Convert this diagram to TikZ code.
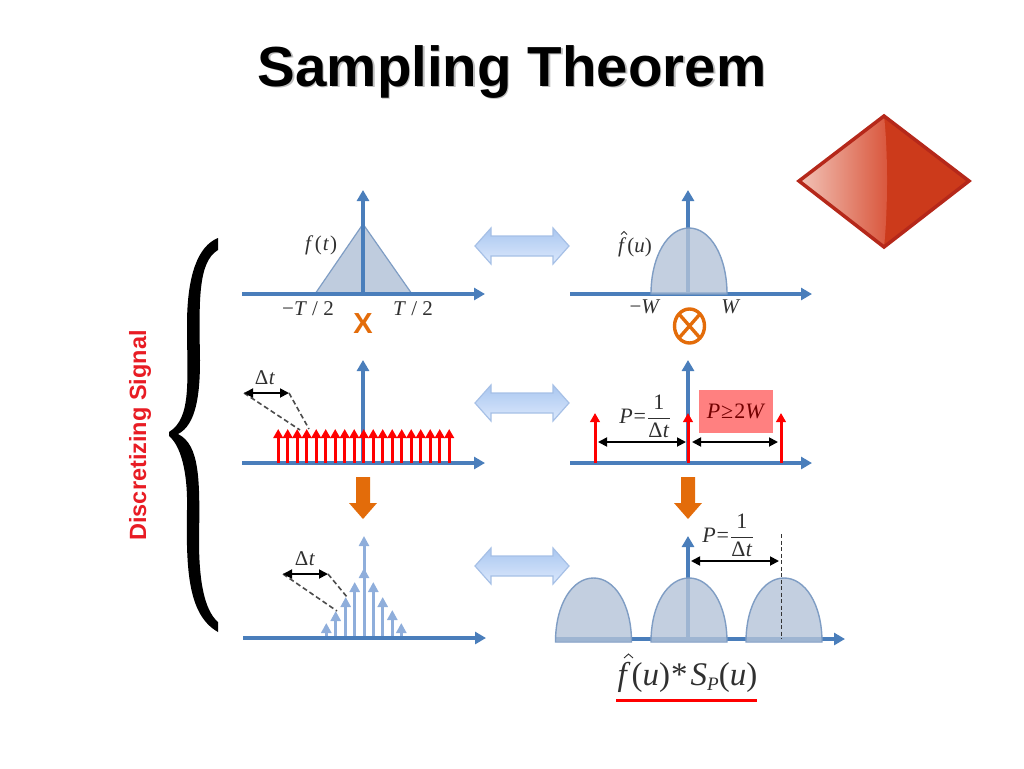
\documentclass[tikz,border=0pt]{standalone}
\usepackage{fontspec}
\setmainfont{Liberation Serif}
\newfontfamily\hfont{Liberation Sans}
\usetikzlibrary{arrows.meta}
\definecolor{axisblue}{HTML}{4A7EBB}
\definecolor{paleblue}{HTML}{8FAEDB}
\definecolor{humpfill}{HTML}{B4C3D8}
\definecolor{humpline}{HTML}{7F9DC4}
\definecolor{orng}{HTML}{E36C0A}
\definecolor{lbl}{HTML}{303030}
\definecolor{dbltop}{HTML}{A9C6F0}
\definecolor{dblbot}{HTML}{DCE9FC}
\definecolor{dblline}{HTML}{A6C0E6}
\definecolor{gemlight}{HTML}{F2C4B8}
\definecolor{gemmid}{HTML}{D9563C}
\definecolor{gemdark}{HTML}{CC3A1B}
\definecolor{gemedge}{HTML}{B5281A}
\definecolor{discred}{HTML}{E81C24}
\tikzset{
  x=1pt,y=-1pt,
  axisline/.style={draw=axisblue,line width=3.2pt,-{Triangle[length=11pt,width=12pt]}},
  redstem/.style={draw=red,line width=3pt,-{Triangle[length=9pt,width=9.5pt]}},
  palestem/.style={draw=paleblue,line width=3pt,-{Triangle[length=10pt,width=10pt]}},
  span/.style={draw=black,line width=1.8pt,{Triangle[length=9pt,width=9pt]}-{Triangle[length=9pt,width=9pt]}},
  dashln/.style={draw=black!70,line width=1.6pt,dash pattern=on 5pt off 3pt},
  humpshape/.style={fill=humpfill,fill opacity=.8,draw=humpline,line width=1.4pt},
  tri/.style={fill=humpfill!85,draw=humpline,line width=1.2pt},
  dblarrow/.style={draw=dblline,line width=1.2pt,top color=dbltop,bottom color=dblbot},
  downarrow/.style={fill=orng},
  hatmark/.style={draw=lbl,line width=.9pt},
  lab/.style={text=lbl,font=\fontsize{21}{23}\selectfont,inner sep=0pt},
  frac/.style={text=lbl,font=\fontsize{22}{26}\selectfont,inner sep=0pt},
}
\newcommand{\Dt}{Δ\kern.5pt\textit{t}}
\newcommand{\Pfrac}{\textit{P}\kern1pt=\kern1pt$\displaystyle\frac{\hbox{1}}{\hbox{\Dt}}$}
\newcommand{\hump}[3]{% centre, base, top
  \path[humpshape] (#1-38,#2) .. controls (#1-38,#2-38) and (#1-21,#3) .. (#1,#3)
    .. controls (#1+21,#3) and (#1+38,#2-38) .. (#1+38,#2) -- cycle;}
\newcommand{\dbl}[1]{%
  \path[dblarrow,shift={(0,#1)}] (475,0) -- (491,-18) -- (491,-10) -- (553,-10) -- (553,-18)
    -- (569,0) -- (553,18) -- (553,10) -- (491,10) -- (491,18) -- cycle;}
\newcommand{\down}[1]{%
  \path[downarrow,shift={(#1,0)}] (-7,477) -- (7,477) -- (7,503) -- (14,503) -- (0,519) -- (-14,503) -- (-7,503) -- cycle;}
\begin{document}
\begin{tikzpicture}
\useasboundingbox (0,0) rectangle (1024,768);
% title
\node[text=black!25,font=\hfont\bfseries\fontsize{56.5}{60}\selectfont,inner sep=0pt] (titleshadow) at (513.5,73.5) {Sampling Theorem};
\node[text=black,font=\hfont\bfseries\fontsize{56.5}{60}\selectfont,inner sep=0pt] (title) at (512,72) {Sampling Theorem};
% diamond
\path[fill=gemdark] (799,181) -- (884,116) -- (969,181) -- (884,247) -- cycle;
\shade[left color=gemlight,right color=gemmid]
  (799,181) -- (884,116) .. controls (888,150) and (888,210) .. (884,247) -- cycle;
\draw[draw=gemedge,line width=3.5pt,line join=miter] (799,181) -- (884,116) -- (969,181) -- (884,247) -- cycle;
% brace
\fill[black] (218,238) .. controls (198,246) and (187,275) .. (187,325)
  .. controls (187,380) and (192,418) .. (169,432) -- (169,436)
  .. controls (180,445) and (188,470) .. (187,510)
  .. controls (186,570) and (188,615) .. (218,632) -- (218,622)
  .. controls (204,610) and (199,580) .. (199,540)
  .. controls (200,480) and (200,445) .. (178,434)
  .. controls (196,425) and (200,395) .. (200,360)
  .. controls (199,300) and (198,262) .. (218,250) -- cycle;
\node[rotate=90,text=discred,font=\hfont\bfseries\fontsize{23.5}{25}\selectfont,inner sep=0pt] (disc) at (140,435.5) {Discretizing Signal};
% double arrows
\dbl{246}\dbl{403}\dbl{566}
% orange arrows
\down{363}\down{688}
% row 1 left
\path[tri] (315,294) -- (363,224) -- (412,294) -- cycle;
\coordinate (a1s) at (242,294); \coordinate (a1e) at (485,294);
\coordinate (v1s) at (363,294); \coordinate (v1e) at (363,190);
\draw[axisline] (a1s) -- (a1e);
\draw[axisline] (v1s) -- (v1e);
\node[lab] (ft) at (321,245) {\textit{f}\kern1.5pt(\kern1pt\textit{t}\kern1pt)};
\node[lab] (mt) at (308,309) {−\textit{T} / 2};
\node[lab] (pt) at (413,309) {\textit{T} / 2};
\node[text=orng,font=\hfont\bfseries\fontsize{29}{30}\selectfont,inner sep=0pt] (times) at (363,324) {X};
% row 1 right
\coordinate (b1s) at (570,294); \coordinate (b1e) at (812,294);
\coordinate (w1s) at (688,294); \coordinate (w1e) at (688,190);
\draw[axisline] (b1s) -- (b1e);
\draw[axisline] (w1s) -- (w1e);
\hump{689}{294}{228}
\node[lab] (fu) at (635,247) {\textit{f}\kern1pt(\textit{u})};
\draw[hatmark] (621,234.5) -- (624,231.5) -- (627,234.5);
\node[lab] (mw) at (645,307) {−\textit{W}};
\node[lab] (pw) at (731,307) {\textit{W}};
\draw[orng,line width=3.4pt] (689.5,326) ellipse [x radius=15,y radius=17];
\draw[orng,line width=3.4pt] (679,314) -- (700,338) (700,314) -- (679,338);
% row 2 left
\coordinate (a2s) at (242,463); \coordinate (a2e) at (485,463);
\coordinate (v2s) at (363,463); \coordinate (v2e) at (363,360);
\draw[axisline] (a2s) -- (a2e);
\draw[axisline] (v2s) -- (v2e);
\foreach \i in {0,...,18} {
  \coordinate (r\i b) at (278.2+9.5*\i,463);
  \coordinate (r\i t) at (278.2+9.5*\i,429);
  \draw[redstem] (r\i b) -- (r\i t);
}
\coordinate (d2a) at (244,393); \coordinate (d2b) at (289,393);
\coordinate (d2c) at (300,430); \coordinate (d2d) at (309,429);
\draw[dashln] (d2a) -- (d2c);
\draw[dashln] (d2b) -- (d2d);
\draw[span] (d2a) -- (d2b);
\node[lab] (dt2) at (265,378) {\Dt};
% row 2 right
\coordinate (b2s) at (570,463); \coordinate (b2e) at (812,463);
\coordinate (w2s) at (688,463); \coordinate (w2e) at (688,360);
\draw[axisline] (b2s) -- (b2e);
\draw[axisline] (w2s) -- (w2e);
\foreach \n/\x in {p/595,q/688,s/781} {
  \coordinate (\n b) at (\x,463);
  \coordinate (\n t) at (\x,413);
  \draw[redstem] (\n b) -- (\n t);
}
\coordinate (h1) at (598,442); \coordinate (h2) at (686,442);
\coordinate (h3) at (692,442); \coordinate (h4) at (778,442);
\draw[span] (h1) -- (h2);
\draw[span] (h3) -- (h4);
\node[frac] (p2) at (645,416) {\Pfrac};
\node[fill=red!50,minimum width=74pt,minimum height=43pt,inner sep=0pt,text=red!45!black,font=\fontsize{22}{24}\selectfont] (cond) at (736,411.5) {\textit{P}\kern1pt≥\kern1pt2\textit{W}};
% row 3 left
\coordinate (a3s) at (243,638); \coordinate (a3e) at (486,638);
\coordinate (v3s) at (364,638); \coordinate (v3e) at (364,536);
\draw[palestem] (v3s) -- (v3e);
\foreach \n/\x/\y in {a/326.3/623,b/335.7/611,c/345.7/597,d/354.7/582,e/364/568,f/373.3/582,g/382.7/597,h/392.3/610,i/401.3/623} {
  \coordinate (\n b) at (\x,638);
  \coordinate (\n t) at (\x,\y);
  \draw[palestem] (\n b) -- (\n t);
}
\draw[axisline] (a3s) -- (a3e);
\coordinate (d3a) at (283,574); \coordinate (d3b) at (328,574);
\coordinate (d3c) at (337,611); \coordinate (d3d) at (347,597);
\draw[dashln] (d3a) -- (d3c);
\draw[dashln] (d3b) -- (d3d);
\draw[span] (d3a) -- (d3b);
\node[lab] (dt3) at (305,559) {\Dt};
% row 3 right
\coordinate (b3s) at (555,639); \coordinate (b3e) at (845,639);
\coordinate (w3s) at (688,639); \coordinate (w3e) at (688,536);
\draw[axisline] (b3s) -- (b3e);
\draw[axisline] (w3s) -- (w3e);
\hump{593.5}{642}{578}\hump{689}{642}{578}\hump{784}{642}{578}
\coordinate (vd1) at (781.5,534); \coordinate (vd2) at (781.5,639);
\draw[draw=black!80,line width=1.6pt,dash pattern=on 4pt off 2.5pt] (vd1) -- (vd2);
\coordinate (k1) at (691,561); \coordinate (k2) at (779,561);
\draw[span] (k1) -- (k2);
\node[frac] (p3) at (728,535) {\Pfrac};
\node[text=lbl,font=\fontsize{33}{36}\selectfont,inner sep=0pt] (conv) at (687.5,677) {\textit{f}\kern1pt(\textit{u})\kern1pt*\kern3pt\textit{S}\raisebox{-5pt}{\fontsize{19}{20}\selectfont\textit{P}}(\textit{u})};
\draw[hatmark] (624,658) -- (628.5,654) -- (633,658);
\coordinate (u1) at (616,700.5); \coordinate (u2) at (757,700.5);
\draw[red,line width=3.5pt] (u1) -- (u2);
\end{tikzpicture}
\end{document}
